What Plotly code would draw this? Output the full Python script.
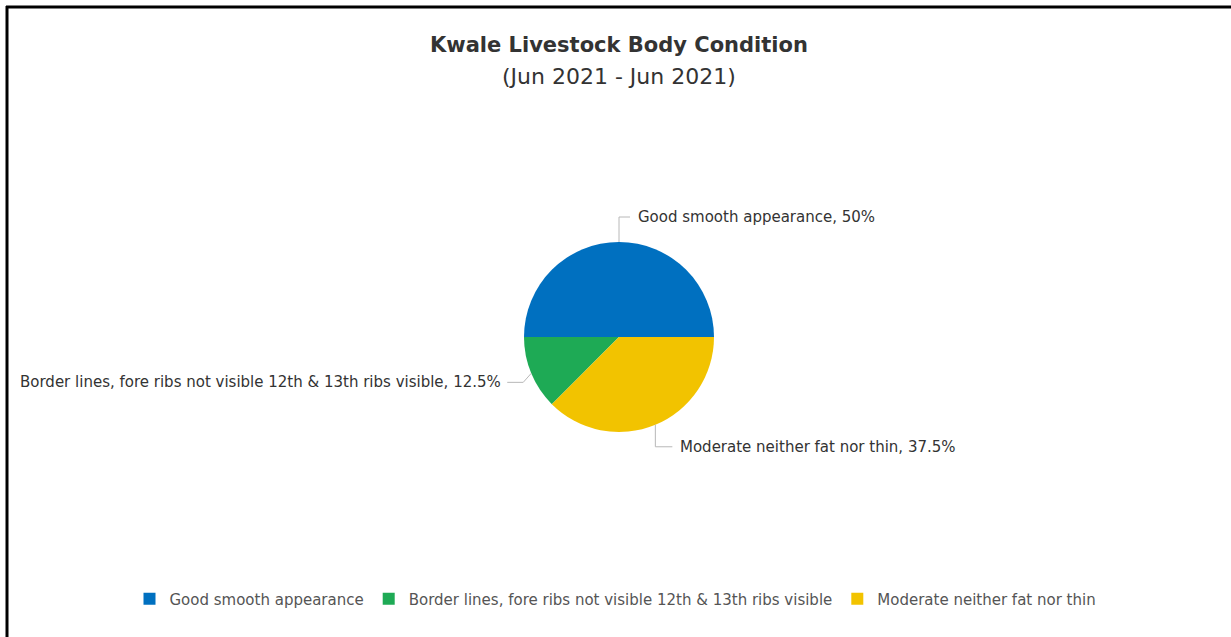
import math
import plotly.graph_objects as go

# Body condition shares (percent)
categories = [
    "Good smooth appearance",
    "Border lines, fore ribs not visible 12th & 13th ribs visible",
    "Moderate neither fat nor thin",
]
values = [50, 12.5, 37.5]
value_labels = ["50%", "12.5%", "37.5%"]
colors = ["#0070c0", "#1eaa55", "#f2c300"]

FONT = "DejaVu Sans, Liberation Sans, Arial, sans-serif"
W, H = 1231, 637
CX, CY, R = 619, 337, 95  # pie centre / radius in pixels


def px(x):
    return x / W


def py(y):
    return 1 - y / H


fig = go.Figure(
    go.Pie(
        labels=categories,
        values=values,
        marker=dict(colors=colors, line=dict(width=0)),
        sort=False,
        direction="counterclockwise",
        rotation=-90,
        textinfo="none",
        hoverinfo="label+percent",
        domain=dict(x=[px(CX - R), px(CX + R)], y=[py(CY + R), py(CY - R)]),
        showlegend=True,
    )
)

# Data labels with elbow connectors, placed from each slice's mid-angle
total = sum(values)
start = 0.0  # degrees, counterclockwise from 3 o'clock
shapes = []
annotations = []
label_cfg = [
    dict(dy=-25, run=11, side="right"),
    dict(dy=9, run=-24, side="left"),
    dict(dy=22, run=17, side="right"),
]
for cat, v, lab, cfg in zip(categories, values, value_labels, label_cfg):
    sweep = 360 * v / total
    mid = math.radians(start + sweep / 2)
    start += sweep
    x0 = CX + R * math.cos(mid)
    y0 = CY - R * math.sin(mid)
    x1 = x0 - 8 if cfg["side"] == "left" else x0
    y1 = y0 + cfg["dy"]
    x2 = x0 + cfg["run"]
    y2 = y1
    path = f"M {px(x0)},{py(y0)} L {px(x1)},{py(y1)} L {px(x2)},{py(y2)}"
    shapes.append(dict(type="path", xref="paper", yref="paper", path=path,
                       line=dict(color="#b8b8b8", width=1)))
    annotations.append(dict(
        xref="paper", yref="paper",
        x=px(x2 + (6 if cfg["side"] == "right" else -4)), y=py(y2),
        xanchor="left" if cfg["side"] == "right" else "right", yanchor="middle",
        text=f"{cat}, {lab}", showarrow=False,
        font=dict(size=15, color="#333333", family=FONT),
    ))

# Frame lines along the left and top edges
shapes.append(dict(type="line", xref="paper", yref="paper",
                   x0=px(7), x1=px(7), y0=py(6), y1=0,
                   line=dict(color="black", width=3)))
shapes.append(dict(type="line", xref="paper", yref="paper",
                   x0=px(6), x1=1, y0=py(7), y1=py(7),
                   line=dict(color="black", width=3)))

annotations.append(dict(
    xref="paper", yref="paper", x=px(619), y=py(45), xanchor="center", yanchor="middle",
    text="<b>Kwale Livestock Body Condition</b>", showarrow=False,
    font=dict(size=21, color="#333333", family=FONT),
))
annotations.append(dict(
    xref="paper", yref="paper", x=px(619), y=py(76), xanchor="center", yanchor="middle",
    text="(Jun 2021 - Jun 2021)", showarrow=False,
    font=dict(size=22, color="#333333", family=FONT),
))

fig.update_layout(
    width=W, height=H,
    margin=dict(l=0, r=0, t=0, b=0),
    paper_bgcolor="white",
    plot_bgcolor="white",
    shapes=shapes,
    annotations=annotations,
    legend=dict(
        orientation="h",
        x=0.5, xanchor="center",
        y=py(599), yanchor="middle",
        font=dict(size=15, color="#555555", family=FONT),
        itemwidth=30,
        traceorder="normal",
    ),
)

fig.write_html("out.html")
